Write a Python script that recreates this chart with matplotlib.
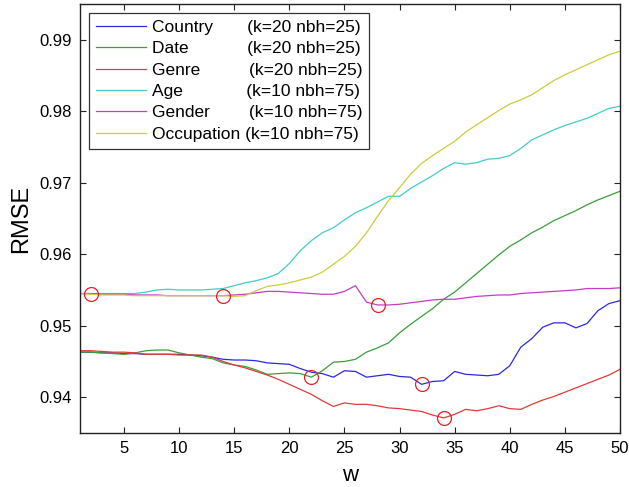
import numpy as np
import matplotlib
matplotlib.use("Agg")
import matplotlib.pyplot as plt

plt.rcParams['font.family'] = ['Liberation Sans', 'DejaVu Sans']

w = np.arange(1, 51)

country = [0.9463, 0.9463, 0.9462, 0.9462, 0.9461, 0.9461, 0.9460, 0.9460, 0.9460, 0.9460,
           0.9459, 0.9458, 0.9456, 0.9453, 0.9452, 0.9452, 0.9451, 0.9448, 0.9447, 0.9446,
           0.9440, 0.9435, 0.9433, 0.9428, 0.9437, 0.9436, 0.9428, 0.9430, 0.9432, 0.9429,
           0.9428, 0.9418, 0.9422, 0.9423, 0.9436, 0.9432, 0.9431, 0.9430, 0.9432, 0.9444,
           0.9470, 0.9482, 0.9498, 0.9504, 0.9504, 0.9497, 0.9503, 0.9521, 0.9531, 0.9535]

date = [0.9463, 0.9463, 0.9462, 0.9461, 0.9460, 0.9462, 0.9465, 0.9466, 0.9466, 0.9462,
        0.9459, 0.9456, 0.9454, 0.9448, 0.9445, 0.9443, 0.9438, 0.9432, 0.9433, 0.9434,
        0.9433, 0.9428, 0.9437, 0.9449, 0.9450, 0.9453, 0.9463, 0.9469, 0.9476, 0.9490,
        0.9502, 0.9513, 0.9524, 0.9537, 0.9547, 0.9560, 0.9573, 0.9586, 0.9599, 0.9611,
        0.9620, 0.9630, 0.9638, 0.9647, 0.9654, 0.9661, 0.9669, 0.9676, 0.9682, 0.9688]

genre = [0.9465, 0.9465, 0.9464, 0.9463, 0.9463, 0.9462, 0.9460, 0.9460, 0.9460, 0.9459,
         0.9459, 0.9459, 0.9456, 0.9450, 0.9445, 0.9441, 0.9436, 0.9431, 0.9425, 0.9418,
         0.9411, 0.9404, 0.9395, 0.9387, 0.9392, 0.9390, 0.9390, 0.9388, 0.9385, 0.9384,
         0.9382, 0.9380, 0.9375, 0.9371, 0.9376, 0.9383, 0.9381, 0.9384, 0.9388, 0.9384,
         0.9383, 0.9390, 0.9396, 0.9401, 0.9407, 0.9413, 0.9419, 0.9425, 0.9431, 0.9439]

age = [0.9545, 0.9545, 0.9545, 0.9545, 0.9545, 0.9545, 0.9547, 0.9550, 0.9551, 0.9550,
       0.9550, 0.9550, 0.9551, 0.9552, 0.9556, 0.9560, 0.9563, 0.9567, 0.9573, 0.9587,
       0.9605, 0.9619, 0.9630, 0.9637, 0.9648, 0.9658, 0.9665, 0.9673, 0.9681, 0.9681,
       0.9692, 0.9701, 0.9710, 0.9720, 0.9728, 0.9726, 0.9728, 0.9733, 0.9734, 0.9738,
       0.9748, 0.9760, 0.9767, 0.9774, 0.9780, 0.9785, 0.9790, 0.9797, 0.9804, 0.9807]

gender = [0.9545, 0.9545, 0.9544, 0.9544, 0.9544, 0.9543, 0.9543, 0.9543, 0.9542, 0.9542,
          0.9542, 0.9542, 0.9542, 0.9542, 0.9543, 0.9544, 0.9546, 0.9548, 0.9548, 0.9547,
          0.9546, 0.9545, 0.9544, 0.9544, 0.9548, 0.9556, 0.9533, 0.9529, 0.9529, 0.9530,
          0.9532, 0.9534, 0.9536, 0.9537, 0.9537, 0.9539, 0.9541, 0.9542, 0.9543, 0.9543,
          0.9545, 0.9546, 0.9547, 0.9548, 0.9549, 0.9550, 0.9552, 0.9552, 0.9552, 0.9553]

occupation = [0.9545, 0.9544, 0.9543, 0.9543, 0.9543, 0.9542, 0.9542, 0.9542, 0.9542, 0.9542,
              0.9542, 0.9542, 0.9542, 0.9542, 0.9541, 0.9542, 0.9549, 0.9555, 0.9557, 0.9560,
              0.9564, 0.9568, 0.9575, 0.9586, 0.9597, 0.9611, 0.9630, 0.9653, 0.9675, 0.9693,
              0.9712, 0.9727, 0.9738, 0.9748, 0.9758, 0.9771, 0.9781, 0.9791, 0.9801, 0.9810,
              0.9816, 0.9823, 0.9833, 0.9843, 0.9851, 0.9858, 0.9865, 0.9872, 0.9879, 0.9884]

names = ["Country", "Date", "Genre", "Age", "Gender", "Occupation"]
params = ["(k=20 nbh=25)", "(k=20 nbh=25)", "(k=20 nbh=25)",
          "(k=10 nbh=75)", "(k=10 nbh=75)", "(k=10 nbh=75)"]
pads = [7, 12, 10, 13, 8, 1]
best_w = [32, 22, 34, 2, 28, 14]

series = [country, date, genre, age, gender, occupation]
colors = ["#2a2ae0", "#3a9e3a", "#e23a3a", "#45caca", "#c23ec2", "#cccc3c"]

fig = plt.figure(figsize=(6.29, 4.87), dpi=100)
ax = fig.add_axes([0.127, 0.111, 0.8587, 0.8808])

for name, par, pad, ys, c in zip(names, params, pads, series, colors):
    ax.plot(w, ys, color=c, lw=0.9, label=name + " " * pad + par)

for ys, bw in zip(series, best_w):
    ax.plot(w[bw - 1], ys[bw - 1], 'o', mfc='none', mec='#e82020', ms=10, mew=0.9, zorder=5)

ax.set_xlim(1, 50)
ax.set_ylim(0.935, 0.995)
ax.set_xticks([5, 10, 15, 20, 25, 30, 35, 40, 45, 50])
ax.set_yticks([0.94, 0.95, 0.96, 0.97, 0.98, 0.99])
ax.set_yticklabels(["0.94", "0.95", "0.96", "0.97", "0.98", "0.99"])
ax.tick_params(direction='in', top=True, right=True, length=4, width=0.8,
               labelsize=12, colors='#222222', labelcolor='black', pad=6)
for s in ax.spines.values():
    s.set_linewidth(1.0)
    s.set_color('#222222')

ax.set_xlabel("w", fontsize=16, labelpad=6)
ax.set_ylabel("RMSE", fontsize=17, labelpad=5)

leg = ax.legend(loc='upper left', bbox_to_anchor=(0.0, 1.0), fontsize=12.5,
                frameon=True, fancybox=False, handlelength=2.9, handletextpad=0.35,
                borderpad=0.4, labelspacing=0.36, borderaxespad=0.5)
leg.get_frame().set_edgecolor('black')
leg.get_frame().set_linewidth(0.9)

fig.savefig("out.png", dpi=100)
